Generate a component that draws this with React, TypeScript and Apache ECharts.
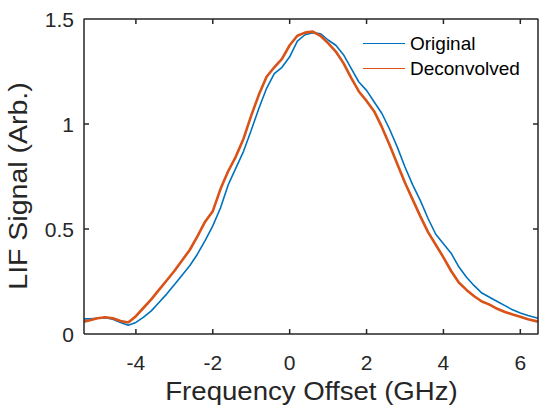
import React, { useEffect, useRef } from "react";
import * as echarts from "echarts";

const freqGrid = [
  -5.35, -5.2, -5.0, -4.8, -4.6, -4.4, -4.2, -4.0, -3.8, -3.6, -3.4, -3.2, -3.0, -2.8, -2.6, -2.4, -2.2, -2.0,
  -1.8, -1.6, -1.4, -1.2, -1.0, -0.8, -0.6, -0.4, -0.2, 0, 0.2, 0.4, 0.6, 0.8, 1.0, 1.2, 1.4, 1.6, 1.8, 2.0,
  2.2, 2.4, 2.6, 2.8, 3.0, 3.2, 3.4, 3.6, 3.8, 4.0, 4.2, 4.4, 4.6, 4.8, 5.0, 5.2, 5.4, 5.6, 5.8, 6.0, 6.2, 6.46,
];

const originalValues = [
  0.072, 0.072, 0.075, 0.078, 0.07, 0.055, 0.042, 0.055, 0.08, 0.11, 0.15, 0.19, 0.235, 0.28, 0.325, 0.38, 0.445, 0.515,
  0.6, 0.71, 0.79, 0.87, 0.97, 1.075, 1.17, 1.24, 1.27, 1.32, 1.395, 1.425, 1.435, 1.43, 1.4, 1.375, 1.33, 1.265, 1.2, 1.16,
  1.105, 1.05, 0.975, 0.89, 0.795, 0.71, 0.635, 0.55, 0.475, 0.43, 0.385, 0.32, 0.27, 0.23, 0.195, 0.175, 0.155, 0.135, 0.115, 0.1, 0.088, 0.075,
];

const deconvolvedValues = [
  0.059, 0.065, 0.075, 0.08, 0.075, 0.062, 0.055, 0.085, 0.125, 0.165, 0.21, 0.255, 0.3, 0.35, 0.4, 0.465, 0.535, 0.585,
  0.69, 0.775, 0.845, 0.93, 1.04, 1.14, 1.225, 1.27, 1.31, 1.375, 1.42, 1.435, 1.44, 1.42, 1.385, 1.345, 1.29, 1.22, 1.155, 1.11,
  1.06, 0.985, 0.9, 0.81, 0.72, 0.64, 0.56, 0.485, 0.425, 0.365, 0.3, 0.245, 0.21, 0.18, 0.155, 0.14, 0.12, 0.105, 0.093, 0.082, 0.07, 0.059,
];

const X_MIN = -5.35;
const X_MAX = 6.46;
const Y_MIN = 0;
const Y_MAX = 1.5;
const xTickValues = [-4, -2, 0, 2, 4, 6];
const yTickValues = [0.5, 1];
const seriesNames = ["Original", "Deconvolved"];
const seriesColors = ["#0072BD", "#D95319"];
const xTitle = "Frequency Offset (GHz)";
const yTitle = "LIF Signal (Arb.)";

const AXIS_COLOR = "#262626";
const FONT = "Liberation Sans, Arial, Helvetica, sans-serif";

// grid geometry (pixels)
const GRID_LEFT = 84;
const GRID_RIGHT = 1;
const GRID_TOP = 19;
const GRID_BOTTOM = 71;
const TICK_PX = 5;

export default function App() {
  const ref = useRef<HTMLDivElement>(null);

  useEffect(() => {
    if (!ref.current) return;
    const chart = echarts.init(ref.current, undefined, { renderer: "svg" });

    const plotW = 539 - GRID_LEFT - GRID_RIGHT;
    const plotH = 405 - GRID_TOP - GRID_BOTTOM;
    const tickDy = ((Y_MAX - Y_MIN) * TICK_PX) / plotH;
    const tickDx = ((X_MAX - X_MIN) * TICK_PX) / plotW;

    const frameSeries = (id: string, data: number[][]) => ({
      id,
      type: "line",
      clip: false,
      silent: true,
      z: 5,
      symbol: "none",
      showSymbol: false,
      data,
      lineStyle: { color: AXIS_COLOR, width: 1.5 },
      itemStyle: { color: AXIS_COLOR },
      tooltip: { show: false },
    });

    const frame = [
      frameSeries("frame", [
        [X_MIN, Y_MIN],
        [X_MAX, Y_MIN],
        [X_MAX, Y_MAX],
        [X_MIN, Y_MAX],
        [X_MIN, Y_MIN],
      ]),
    ];
    xTickValues.forEach((v, i) => {
      frame.push(frameSeries(`xtb${i}`, [[v, Y_MIN], [v, Y_MIN + tickDy]]));
      frame.push(frameSeries(`xtt${i}`, [[v, Y_MAX], [v, Y_MAX - tickDy]]));
    });
    yTickValues.forEach((v, i) => {
      frame.push(frameSeries(`ytl${i}`, [[X_MIN, v], [X_MIN + tickDx, v]]));
      frame.push(frameSeries(`ytr${i}`, [[X_MAX, v], [X_MAX - tickDx, v]]));
    });

    chart.setOption({
      animation: false,
      backgroundColor: "#ffffff",
      grid: { left: GRID_LEFT, right: GRID_RIGHT, top: GRID_TOP, bottom: GRID_BOTTOM },
      legend: {
        orient: "vertical",
        left: 363,
        top: 34,
        padding: 0,
        itemWidth: 42,
        itemHeight: 1.2,
        itemGap: 6,
        icon: "rect",
        data: seriesNames.map((n, i) => ({ name: n, itemStyle: { color: seriesColors[i] } })),
        textStyle: { fontFamily: FONT, fontSize: 19, color: "#000000", lineHeight: 19 },
      },
      xAxis: {
        type: "value",
        min: X_MIN,
        max: X_MAX,
        splitNumber: 6,
        splitLine: { show: false },
        axisLine: { show: false },
        axisTick: { show: false },
        axisLabel: {
          show: true,
          showMinLabel: false,
          showMaxLabel: false,
          margin: 18,
          fontFamily: FONT,
          fontSize: 21,
          color: AXIS_COLOR,
        },
      },
      yAxis: {
        type: "value",
        min: Y_MIN,
        max: Y_MAX,
        interval: 0.5,
        splitLine: { show: false },
        axisLine: { show: false },
        axisTick: { show: false },
        axisLabel: { show: true, margin: 10, fontFamily: FONT, fontSize: 21, color: AXIS_COLOR },
      },
      series: [
        {
          name: seriesNames[0],
          type: "line",
          symbol: "none",
          showSymbol: false,
          data: freqGrid.map((f, i) => [f, originalValues[i]]),
          lineStyle: { color: seriesColors[0], width: 1.6 },
          itemStyle: { color: seriesColors[0] },
        },
        {
          name: seriesNames[1],
          type: "line",
          symbol: "none",
          showSymbol: false,
          data: freqGrid.map((f, i) => [f, deconvolvedValues[i]]),
          lineStyle: { color: seriesColors[1], width: 2.6 },
          itemStyle: { color: seriesColors[1] },
        },
        ...frame,
      ],
      graphic: [
        {
          type: "text",
          x: 311.5,
          y: 391,
          scaleX: 1.105,
          style: {
            text: xTitle,
            font: `25px ${FONT}`,
            fill: AXIS_COLOR,
            textAlign: "center",
            textVerticalAlign: "middle",
          },
        },
        {
          type: "text",
          x: 19,
          y: 186,
          rotation: Math.PI / 2,
          scaleX: 1.14,
          style: {
            text: yTitle,
            font: `25px ${FONT}`,
            fill: AXIS_COLOR,
            textAlign: "center",
            textVerticalAlign: "middle",
          },
        },
      ],
    });
    return () => chart.dispose();
  }, []);

  return <div ref={ref} style={{ width: 539, height: 405, position: "absolute", left: 0, top: 0 }} />;
}
